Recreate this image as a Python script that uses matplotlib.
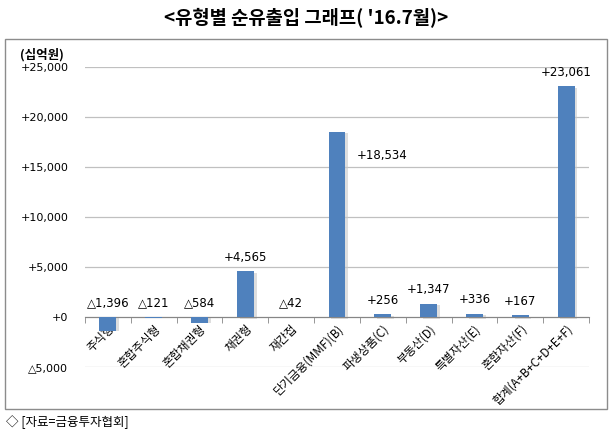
import matplotlib
matplotlib.use("Agg")
import matplotlib.pyplot as plt
from matplotlib.patches import Rectangle

plt.rcParams['font.family'] = ['Noto Sans CJK KR', 'DejaVu Sans']

categories = ["주식형", "혼합주식형", "혼합채권형", "채권형", "재간접", "단기금융(MMF)(B)",
              "파생상품(C)", "부동산(D)", "특별자산(E)", "혼합자산(F)", "합계(A+B+C+D+E+F)"]
values = [-1396, -121, -584, 4565, -42, 18534, 256, 1347, 336, 167, 23061]
yticks = [-5000, 0, 5000, 10000, 15000, 20000, 25000]


def fmt(v):
    # 음수는 △ 표기
    if v < 0:
        return "△{:,}".format(-v)
    return "+{:,}".format(v)


W, H = 613, 434
fig = plt.figure(figsize=(W / 100, H / 100), dpi=100)

# 바깥 테두리
fig.patches.append(Rectangle((5 / W, 1 - 409 / H), 602 / W, 370 / H, transform=fig.transFigure,
                             fill=False, edgecolor='#8c8c8c', linewidth=1))

ax = fig.add_axes([85 / W, 1 - 367 / H, 504 / W, 300 / H])
ax.set_xlim(-0.5, len(categories) - 0.5)
ax.set_ylim(-5000, 25000)

x = list(range(len(categories)))
# 그림자
ax.bar([i + 0.06 for i in x], values, width=0.37, bottom=[-150 if v > 0 else 0 for v in values],
       color='#c8c8c8', alpha=0.6, zorder=2)
ax.bar(x, values, width=0.37, color='#4f81bd', zorder=3)

ax.set_yticks(yticks)
ax.set_yticklabels([fmt(t) for t in yticks], fontsize=8, family=['DejaVu Sans'])
ax.tick_params(axis='y', length=0, pad=12)
ax.grid(axis='y', color='#c0c0c0', linewidth=0.9, zorder=0)

for s in ['left', 'right', 'top']:
    ax.spines[s].set_visible(False)
ax.spines['bottom'].set_position(('data', 0))
ax.spines['bottom'].set_color('#868686')

ax.set_xticks([i - 0.5 for i in range(len(categories) + 1)], minor=True)
ax.set_xticks(x)
ax.set_xticklabels(categories, rotation=45, ha='right', va='top', rotation_mode='anchor', fontsize=8.5)
ax.tick_params(axis='x', which='major', length=0, pad=4)
ax.tick_params(axis='x', which='minor', length=4, color='#868686', direction='out')

for i, v in enumerate(values):
    if i == 5:
        ax.text(5.44, 16200, fmt(v), ha='left', va='center', fontsize=8.5, family=['DejaVu Sans'])
    else:
        ax.text(i, max(v, 0) + 1400, fmt(v), ha='center', va='center', fontsize=8.5, family=['DejaVu Sans'])

fig.text(20 / W, 1 - 55 / H, "(십억원)", fontsize=9, fontweight='bold', va='center')
fig.text(0.5, 1 - 18 / H, "<유형별 순유출입 그래프( '16.7월)>", ha='center', va='center',
         fontsize=13.5, fontweight='bold')
fig.text(6 / W, 1 - 422 / H, "◇ [자료=금융투자협회]", fontsize=9, va='center')

fig.savefig("out.png", dpi=100)
